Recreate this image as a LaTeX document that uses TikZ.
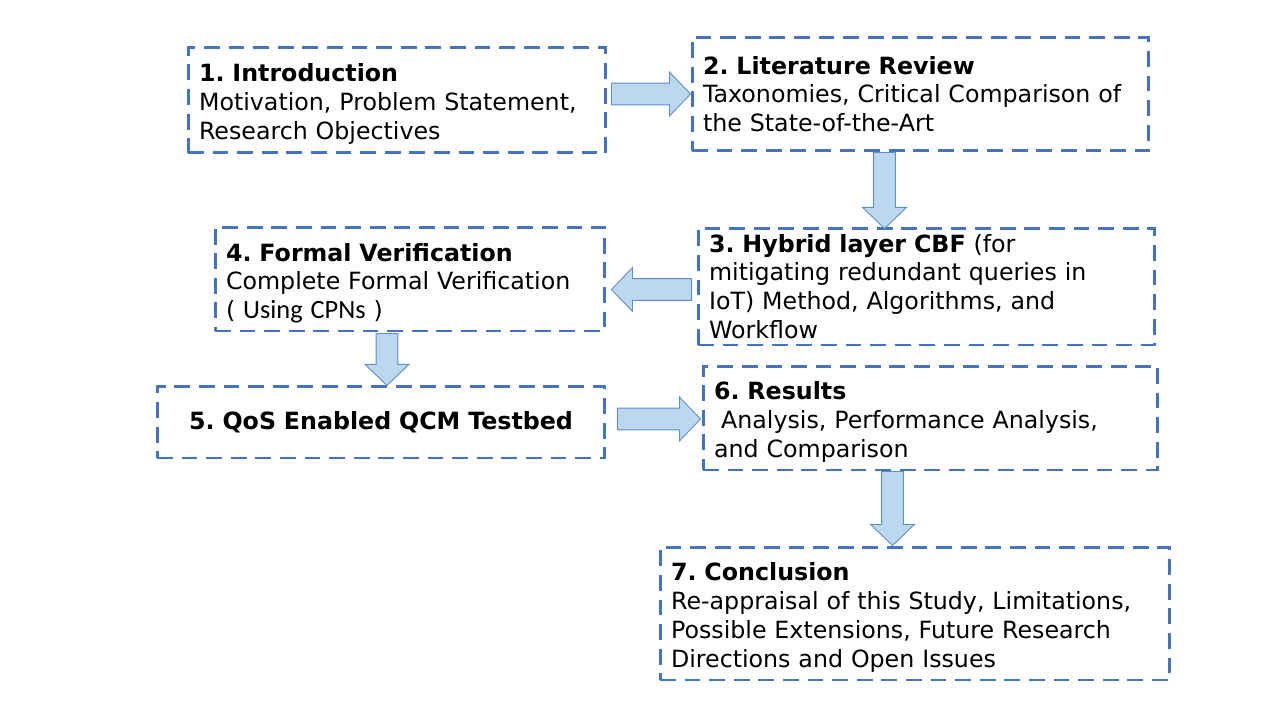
\documentclass[tikz,border=0pt]{standalone}
\usepackage{fontspec}
\setmainfont{DejaVu Sans}
\newfontfamily\calibrifont{Carlito}
\usetikzlibrary{calc}
\frenchspacing

\definecolor{boxblue}{HTML}{4472C4}
\definecolor{arrowfill}{HTML}{BDD7EE}
\definecolor{arrowline}{HTML}{5B8FC9}

% taller first line, pushes the text block a little down in its box
\newcommand{\topstrut}{\rule{0pt}{15pt}}

\tikzset{
  stage/.style={draw=boxblue, line width=1.7pt, dash pattern=on 9pt off 5pt,
    align=left, inner xsep=0.22cm, inner ysep=0pt,
    font=\fontsize{13.5}{16.4}\selectfont},
  flowarrow/.style={fill=arrowfill, draw=arrowline, line width=0.5pt}
}

% fat block arrow from #1 to #2 (both named coordinates)
\newcommand{\blockarrow}[2]{%
  \draw[flowarrow] let \p1=($(#2)-(#1)$), \n1={veclen(\x1,\y1)}, \n2={atan2(\y1,\x1)} in
    ($(#1)+({\n2+90}:6.2pt)$) -- ++(\n2:{\n1-12pt}) -- ++({\n2+90}:6.3pt) -- (#2)
    -- ($(#1)+(\n2:{\n1-12pt})+({\n2-90}:12.5pt)$) -- ++({\n2+90}:6.3pt)
    -- ($(#1)+({\n2-90}:6.2pt)$) -- cycle;}

\begin{document}
\begin{tikzpicture}[x=0.02cm, y=-0.02cm]

    % Fix the page to the full slide
    \useasboundingbox (0,0) rectangle (1280,720);

    % The seven stages of the thesis
    \node[stage, text width=7.92cm, minimum height=2.12cm] (intro) at (397,100)
        {\topstrut\textbf{1. Introduction}\\Motivation, Problem Statement,\\Research Objectives};
    \node[stage, text width=8.7cm, minimum height=2.28cm] (review) at (920.5,94)
        {\textbf{2. Literature Review}\\Taxonomies, Critical Comparison of\\the State-of-the-Art};
    \node[stage, text width=8.7cm, minimum height=2.34cm] (hybrid) at (926.5,286.5)
        {\textbf{3. Hybrid layer CBF} (for\\mitigating redundant queries in\\IoT) Method, Algorithms, and\\Workflow};
    \node[stage, text width=7.36cm, minimum height=2.08cm] (formal) at (410,279)
        {\topstrut\textbf{4. Formal Verification}\\Complete Formal Verification\\( {\calibrifont\fontsize{15}{16.4}\selectfont Using CPNs} )};
    \node[stage, text width=8.52cm, minimum height=1.44cm, align=center] (qos) at (381,422)
        {\textbf{5. QoS Enabled QCM Testbed}};
    \node[stage, text width=8.66cm, minimum height=2.08cm] (results) at (930.5,418)
        {\topstrut\textbf{6. Results}\\\hspace{0.3em}Analysis, Performance Analysis,\\and Comparison};
    \node[stage, text width=9.76cm, minimum height=2.66cm] (concl) at (915,613.5)
        {\topstrut\textbf{7. Conclusion}\\Re-appraisal of this Study, Limitations,\\Possible Extensions, Future Research\\Directions and Open Issues};

    % End points of the block arrows
    \coordinate (a1s) at ($(intro.east |- review.west)+(4,0)$);
    \coordinate (a1e) at (review.west);
    \coordinate (a2s) at ($(review.south)+(-36,0)$);
    \coordinate (a2e) at ($(a2s |- hybrid.north)+(0,2)$);
    \coordinate (a3s) at ($(hybrid.west)+(-5,3)$);
    \coordinate (a3e) at ($(formal.east |- a3s)+(5,0)$);
    \coordinate (a4s) at ($(formal.south)+(-23,1)$);
    \coordinate (a4e) at ($(a4s |- qos.north)+(0,1)$);
    \coordinate (a5s) at ($(qos.east |- results.west)+(11,1)$);
    \coordinate (a5e) at ($(results.west)+(-1,1)$);
    \coordinate (a6s) at ($(results.south)+(-38,0)$);
    \coordinate (a6e) at (a6s |- concl.north);

    % Draw the block arrows between the stages
    \blockarrow{a1s}{a1e}
    \blockarrow{a2s}{a2e}
    \blockarrow{a3s}{a3e}
    \blockarrow{a4s}{a4e}
    \blockarrow{a5s}{a5e}
    \blockarrow{a6s}{a6e}

\end{tikzpicture}
\end{document}
